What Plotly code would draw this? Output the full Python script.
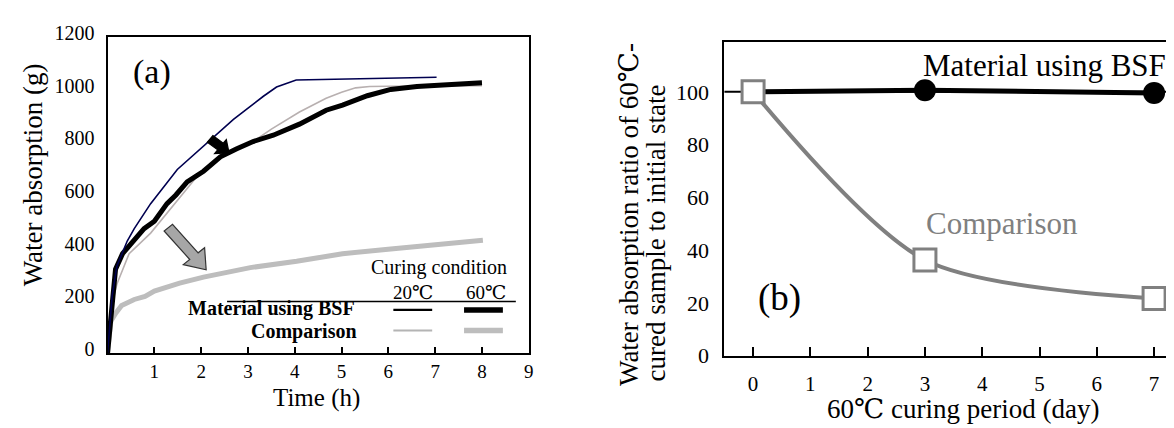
import math
import plotly.graph_objects as go

W, H = 1174, 428

# ---------------- Panel (a): water absorption vs time ----------------
time_bsf20 = [0, 0.1, 0.2, 0.42, 0.57, 0.92, 1.49, 2.19, 2.69, 3.33, 3.61, 4.03, 5.0, 6.0, 7.03]
wa_bsf20 = [0, 220, 330, 425, 472, 567, 697, 809, 887, 975, 1010, 1037, 1040, 1043, 1047]

time_bsf60 = [0, 0.08, 0.17, 0.32, 0.57, 0.78, 1.0, 1.27, 1.46, 1.70, 2.05, 2.41, 2.75,
              3.11, 3.54, 4.1, 4.67, 5.02, 5.55, 6.05, 6.61, 8.0]
wa_bsf60 = [0, 160, 318, 377, 425, 472, 500, 567, 600, 650, 690, 745, 775,
            803, 827, 869, 922, 941, 977, 1001, 1012, 1026]

time_cmp20 = [0, 0.1, 0.2, 0.46, 0.92, 1.27, 1.98, 2.5, 3.11, 3.5, 4.1, 4.67, 5.0, 5.3, 5.6, 6.0, 7.0, 8.0]
wa_cmp20 = [0, 190, 262, 377, 455, 530, 685, 750, 803, 850, 915, 967, 990, 1007, 1012, 1013, 1014, 1015]

time_cmp60 = [0, 0.03, 0.07, 0.17, 0.3, 0.57, 0.8, 1.0, 1.54, 2.05, 3.05, 4.04, 5.02, 6.05, 6.99, 8.02]
wa_cmp60 = [0, 80, 120, 150, 180, 203, 215, 235, 265, 288, 324, 348, 377, 395, 411, 428]

time_ticks = [1, 2, 3, 4, 5, 6, 7, 8, 9]
wa_ticks = [0, 200, 400, 600, 800, 1000, 1200]

# ---------------- Panel (b): ratio vs curing period ----------------
period = [0, 3, 7]
ratio_bsf = [100, 100.6, 99.6]
ratio_cmp = [100, 36.3, 21.7]
period_ticks = [0, 1, 2, 3, 4, 5, 6, 7]
ratio_ticks = [0, 20, 40, 60, 80, 100]

SERIF = "Liberation Serif, Times New Roman, DejaVu Serif, serif"


def px(x):
    return x / W


def py(y):
    return 1 - y / H


fig = go.Figure()

# panel (a) traces
fig.add_trace(go.Scatter(x=time_cmp60, y=wa_cmp60, mode="lines",
                         line=dict(color="#bdbdbd", width=5), xaxis="x", yaxis="y"))
fig.add_trace(go.Scatter(x=time_cmp20, y=wa_cmp20, mode="lines",
                         line=dict(color="#b8b0b0", width=1.6), xaxis="x", yaxis="y"))
fig.add_trace(go.Scatter(x=time_bsf60, y=wa_bsf60, mode="lines",
                         line=dict(color="#000000", width=5), xaxis="x", yaxis="y"))
fig.add_trace(go.Scatter(x=time_bsf20, y=wa_bsf20, mode="lines",
                         line=dict(color="#000050", width=1.6), xaxis="x", yaxis="y"))

# panel (b) traces
fig.add_trace(go.Scatter(x=period, y=ratio_bsf, mode="lines+markers",
                         line=dict(color="#000000", width=5),
                         marker=dict(symbol="circle", size=22, color="#000000"),
                         xaxis="x2", yaxis="y2"))
fig.add_trace(go.Scatter(x=period, y=ratio_cmp, mode="lines+markers",
                         line=dict(color="#808080", width=4, shape="spline", smoothing=0.8),
                         marker=dict(symbol="square", size=22, color="#ffffff",
                                     line=dict(color="#808080", width=3)),
                         xaxis="x2", yaxis="y2"))

axis_common = dict(showgrid=False, zeroline=False, showline=True, linecolor="black",
                   linewidth=2, color="black")

fig.update_layout(
    width=W, height=H,
    margin=dict(l=0, r=0, t=0, b=0),
    paper_bgcolor="white", plot_bgcolor="white",
    showlegend=False,
    font=dict(family=SERIF, color="black"),
    xaxis=dict(domain=[px(100), px(523)], range=[0, 9], tickvals=time_ticks,
               ticks="inside", ticklen=6, tickwidth=1.5, tickcolor="black",
               mirror=True, tickfont=dict(size=19, family=SERIF),
               ticklabelstandoff=0, anchor="y", **axis_common),
    yaxis=dict(domain=[py(353), py(15)], range=[0, 1200], tickvals=wa_ticks,
               ticks="", mirror=True, tickfont=dict(size=20, family=SERIF),
               ticklabelstandoff=7, ticklabelshift=-4, anchor="x", **axis_common),
    xaxis2=dict(domain=[px(719.5), 1.0], range=[-0.5, 7.4], tickvals=period_ticks,
                ticks="inside", ticklen=9, tickwidth=1.5, tickcolor="black",
                mirror=True, tickfont=dict(size=21, family=SERIF),
                ticklabelstandoff=8, anchor="y2", **axis_common),
    yaxis2=dict(domain=[py(356), py(20)], range=[0, 119], tickvals=ratio_ticks,
                ticks="", mirror=False, tickfont=dict(size=22, family=SERIF),
                ticklabelstandoff=9, anchor="x2", **axis_common),
)

shapes = []
# thin reference line at the initial ratio in panel (b)
shapes.append(dict(type="line", xref="x2 domain", yref="y2", x0=0, x1=1,
                   y0=ratio_bsf[0], y1=ratio_bsf[0], line=dict(color="black", width=2),
                   layer="below"))

# custom legend table in panel (a)
shapes.append(dict(type="line", xref="paper", yref="paper", x0=px(220), x1=px(510),
                   y0=py(298), y1=py(298), line=dict(color="black", width=1.5)))
legend_rows = [
    (307, "#000000", "#000000", 2.2),
    (329, "#b4b4b4", "#bdbdbd", 1.8),
]
for ry, col, thick_col, wthin in legend_rows:
    shapes.append(dict(type="line", xref="paper", yref="paper", x0=px(387), x1=px(426),
                       y0=py(ry), y1=py(ry), line=dict(color=col, width=wthin)))
    shapes.append(dict(type="line", xref="paper", yref="paper", x0=px(458), x1=px(497),
                       y0=py(ry), y1=py(ry), line=dict(color=thick_col, width=5.5)))


def block_arrow(tail, tip, body_hw, head_hw, head_len, fill, outline):
    dx, dy = tip[0] - tail[0], tip[1] - tail[1]
    L = math.hypot(dx, dy)
    ux, uy = dx / L, dy / L
    nx, ny = -uy, ux
    bx, by = tip[0] - ux * head_len, tip[1] - uy * head_len
    pts = [
        (tail[0] + nx * body_hw, tail[1] + ny * body_hw),
        (bx + nx * body_hw, by + ny * body_hw),
        (bx + nx * head_hw, by + ny * head_hw),
        tip,
        (bx - nx * head_hw, by - ny * head_hw),
        (bx - nx * body_hw, by - ny * body_hw),
        (tail[0] - nx * body_hw, tail[1] - ny * body_hw),
    ]
    path = "M " + " L ".join("%.5f,%.5f" % (px(a), py(b)) for a, b in pts) + " Z"
    return dict(type="path", xref="paper", yref="paper", path=path,
                fillcolor=fill, line=dict(color=outline, width=1.2))


# gray block arrow and small black arrow in panel (a)
shapes.append(block_arrow((161, 219), (199, 264), 5.5, 14, 19, "#a6a6a6", "#333333"))
shapes.append(block_arrow((203, 124), (222, 139), 4.5, 9.5, 11, "#000000", "#000000"))

fig.update_layout(shapes=shapes)

ann = []


def text(x, y, s, size, color="black", xanchor="center", angle=0, bold=False):
    ann.append(dict(x=px(x), y=py(y), xref="paper", yref="paper", text=("<b>%s</b>" % s) if bold else s,
                    showarrow=False, xanchor=xanchor, yanchor="middle", textangle=angle,
                    font=dict(family=SERIF, size=size, color=color)))


# panel (a) titles and labels
text(26, 162, "Water absorption (g)", 27, angle=-90)
text(310, 401, "Time (h)", 25)
text(145, 52, "(a)", 34)
text(433, 262, "Curing condition", 20)
text(407, 288, "20℃", 19)
text(480, 288, "60℃", 19)
text(350, 306, "Material using BSF", 20, xanchor="right", bold=True)
text(353, 330, "Comparison", 20, xanchor="right", bold=True)

# panel (b) titles and labels
text(623, 205, "Water absorption ratio of 60℃-", 27, angle=-90)
text(651, 225, "cured sample to initial state", 27, angle=-90)
text(959, 413, "60℃ curing period (day)", 27)
text(1041, 46, "Material using BSF", 31)
text(998, 215, "Comparison", 31, color="#808080")
text(775, 294, "(b)", 37)

fig.update_layout(annotations=ann)

fig.write_html("out.html")
